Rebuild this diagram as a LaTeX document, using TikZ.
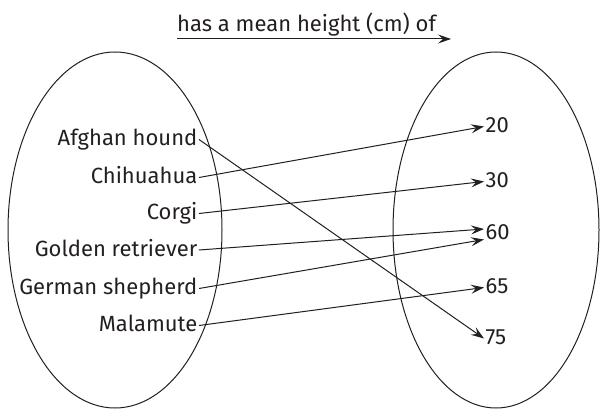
\documentclass[tikz,border=0pt]{standalone}
\usepackage{fontspec}
\setmainfont{Fira Sans}
\usetikzlibrary{arrows.meta}
\definecolor{ink}{HTML}{231F20}
\begin{document}
\begin{tikzpicture}[x=1pt,y=-1pt,
  lbl/.style={font=\fontsize{22}{26}\selectfont, text=ink, text height=16pt, text depth=4pt, inner sep=1.5pt},
  dog/.style={lbl, anchor=east},
  val/.style={lbl, anchor=west},
  tip/.style={-{Stealth[length=13pt,width=9pt,inset=5pt]}},
  link/.style={line width=1pt, draw=ink, tip},
  setline/.style={line width=1pt, draw=ink}]
\useasboundingbox (0,0) rectangle (600,409);
% sets
\draw[setline] (115,230) ellipse [x radius=107, y radius=178];
\draw[setline] (496,230) ellipse [x radius=103, y radius=178];
% title
\node[lbl, anchor=base west, inner sep=0pt, text height=, text depth=] (title) at (177,32) {has a mean height (cm) of};
\coordinate (ta) at (177,39);
\coordinate (tb) at (451,39);
\draw[link] (ta) -- (tb);
% domain
\node[dog] (afg) at (199,139.5) {Afghan hound};
\node[dog] (chi) at (199,177.5) {Chihuahua};
\node[dog] (cor) at (199,213.5) {Corgi};
\node[dog] (gol) at (199,250) {Golden retriever};
\node[dog] (ger) at (199,288.5) {German shepherd};
\node[dog] (mal) at (199,325.5) {Malamute};
% codomain
\node[val] (n20) at (484,126.5) {20};
\node[val] (n30) at (484,181.5) {30};
\node[val] (n60) at (484,233.5) {60};
\node[val] (n65) at (484,287.5) {65};
\node[val] (n75) at (484,338.5) {75};
% mapping
\draw[link] (afg.east) -- (n75.west);
\draw[link] (chi.east) -- (n20.west);
\draw[link] (cor.east) -- (n30.west);
\draw[link] (gol.east) -- ([yshift=4.5pt]n60.west);
\draw[link] (ger.east) -- ([yshift=-6pt]n60.west);
\draw[link] (mal.east) -- (n65.west);
\end{tikzpicture}
\end{document}
